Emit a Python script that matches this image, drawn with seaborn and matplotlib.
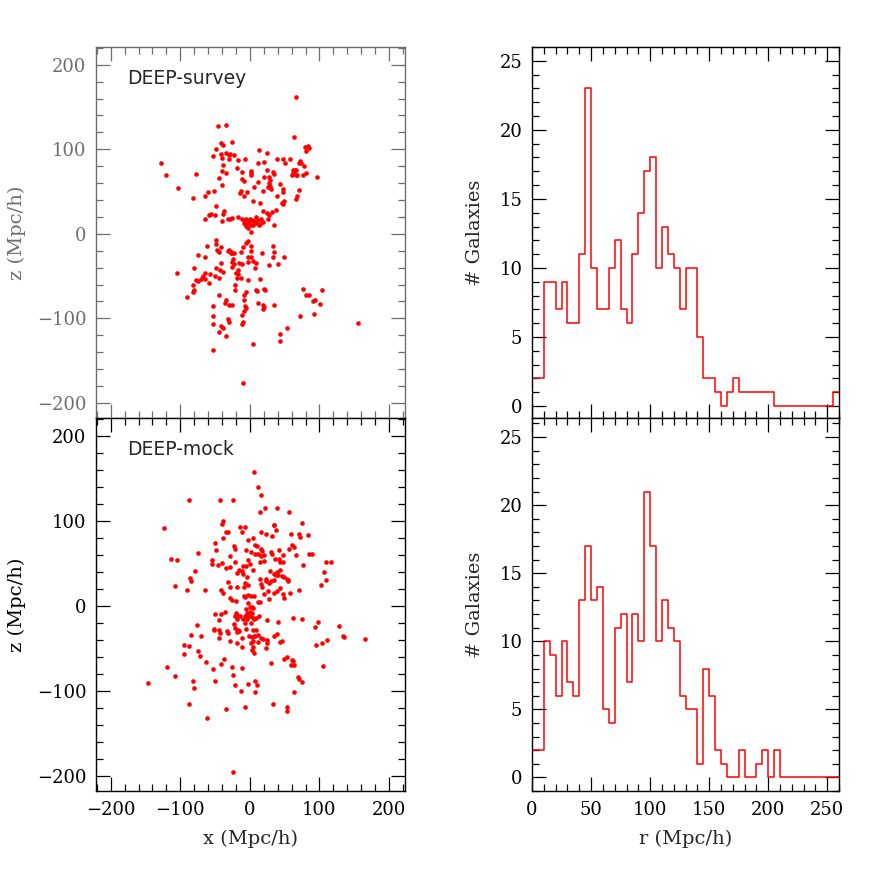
import numpy as np
import pandas as pd
import seaborn as sns
import matplotlib
matplotlib.use('Agg')
import matplotlib.pyplot as plt
from matplotlib.ticker import MultipleLocator

sns.set_style('ticks')
plt.rcParams['font.family'] = ['DejaVu Serif']

# DEEP-survey: projected positions (Mpc/h)
survey_x = [66, -46, -35, 63, -41, -39, -26, 79, 84, 81, 85, -49, -53, -42, -35, -40, -30, -28, -23, -30,
            -17, -7, 13, 24, -127, -39, -19, -40, -34, 11, 20, 39, 48, 58, 51, 70, 72, 74, 78, 62,
            65, 67, 62, 66, 60, 68, 76, 80, 96, -120, -78, -103, -81, -45, -40, -11, 1, 2, 1, 25,
            33, 35, 20, 28, 29, -12, -8, 12, 27, 29, 43, 31, 19, 26, 6, 48, 47, 71, 68, 66,
            39, 49, 46, 48, -52, -60, -64, -13, -14, -4, -8, 5, 15, -48, 19, 24, 27, 32, 38, -37,
            -38, -56, -58, -50, -64, -28, -31, -25, -40, -17, -12, -8, -5, 0, 3, 9, 12, 16, 19, -2,
            -7, 1, -5, -2, 5, 9, 13, 15, 34, 26, 1, -9, 6, -1,
            -48, -48, -41, -47, -45, -61, -75, -65, -5, -3, -10, 1, 2, -32, -30, -27, -25, -27, -23, -13,
            -2, 1, -3, 5, 9, 17, 33, 35, 33, 49, 41, 28, -105, -80, -42, -25, -23, -16, -12, -25,
            -17, -49, -43, -38, 7, -57, -64, -67, -65, -70, -74, -77, -81, -59, -50, -44, -20, -18, -13, -21,
            -22, -2, 14, -82, -80, -90, -45, -6, -9, 9, 10, 21, 22, -8, -35, -36, -30, -26, 12, 19,
            21, 19, 35, -7, -5, -9, -53, -53, -11, -10, -11, -32, -30, -53, -42, -39, -45, -35, -53, 5,
            -10, 53, 43, 43, 72, 92, 76, 81, 85, 103, 94, 90, 101, 155, -24, -17]
survey_z = [162, 127, 129, 115, 107, 105, 109, 103, 104, 98, 101, 100, 92, 94, 96, 90, 93, 95, 93, 88,
            87, 88, 99, 96, 84, 81, 78, 74, 72, 84, 85, 89, 89, 88, 84, 84, 86, 84, 80, 76,
            76, 76, 72, 70, 70, 70, 69, 72, 67, 69, 71, 54, 42, 66, 58, 73, 74, 72, 70, 76,
            73, 71, 67, 67, 64, 65, 63, 61, 60, 57, 59, 53, 51, 55, 55, 53, 50, 52, 45, 41,
            45, 39, 36, 35, 51, 49, 45, 51, 48, 49, 45, 39, 37, 33, 27, 25, 22, 26, 28, 27,
            24, 24, 22, 22, 18, 18, 17, 19, 15, 20, 18, 16, 17, 18, 16, 20, 16, 17, 14, 13,
            12, 11, 9, 7, 11, 13, 11, 12, 11, 18, 2, 13, 15, 15,
            -7, -12, -16, -19, -22, -15, -25, -28, -11, -9, -16, -15, -20, -20, -19, -21, -23, -23, -23, -22,
            -27, -27, -33, -32, -34, -23, -15, -22, -27, -28, -36, -37, -46, -40, -35, -33, -36, -35, -36, -39,
            -43, -41, -43, -45, -40, -47, -46, -50, -54, -54, -56, -55, -60, -58, -50, -52, -46, -52, -52, -60,
            -67, -55, -53, -69, -67, -75, -73, -69, -73, -67, -68, -65, -67, -78, -78, -82, -84, -84, -82, -84,
            -87, -89, -84, -86, -88, -91, -86, -97, -96, -104, -107, -101, -104, -107, -109, -111, -116, -121, -138, -131,
            -176, -112, -118, -127, -97, -95, -65, -72, -73, -66, -78, -80, -83, -106, -30, -48]

# DEEP-mock: projected positions (Mpc/h)
mock_x = [6, 11, 16, -87, -43, -24, 22, 39, 14, 56, -123, -38, -40, -14, -7, -35, -31, -12, -39, 16,
          23, 32, 34, 35, 38, 75, 59, 71, 72, 84, 5, -3, -50, -49, -23, -21, 8, 10, -6, 16,
          18, 2, 7, 12, 16, 20, 31, 32, 42, 47, 56, 61, 64, 66, 85, 89, -74, -114, -104, -55,
          -55, -46, -40, -29, -21, -29, -35, -10, -6, -2, 0, -12, -16, -18, -10, -4, 5, 14, 20, 36,
          42, 44, 48, 29, 35, 39, 43, 38, 41, 46, 49, 54, 55, 76, 109, 116, 107, 110, 102, -79,
          -86, -84, -107, -91, -64, -42, -38, -31, -29, -19, -7, -8, -2, 15, 16, 23, 23, 27, 30, 35,
          55, 17, 20, 26, 34, 39, 43, 47, 58, 70, -28, -26, -20, -9, -7, -2, 1, 6, 12, 15,
          27, 49, -2,
          -5, 0, 3, 5, 0, 3, -4, -7, -2, 0, 3, 6, 9, 13, -10, -20, -19, -21, -14, -18,
          -36, -41, -50, -45, -23, -21, -17, -19, -15, -6, 5, 9, -1, 3, 8, 12, 16, 19, 24, 24,
          11, 2, 5, 3, 6, 23, -12, -18, -11, -28, -45, -43, -44, -52, -51, -33, -31, -76, -84, -70,
          -95, -87, -94, -75, -72, -63, -37, -41, -53, -119, -107, -146, -81, -80, -88, -50, -62, -35, -24, -26,
          -11, -24, -22, -3, -13, 7, 10, 8, -7, 33, 54, 53, 30, 49, 53, 60, 62, 59, 64, 69,
          70, 75, 63, 105, 43, 46, 35, 39, 24, 41, 62, 75, 93, 98, 95, 103, 111, 128, 134, 135,
          166, -4, -7, 1, 6, 5]
mock_z = [158, 140, 130, 125, 125, 124, 115, 115, 110, 110, 92, 100, 96, 93, 93, 87, 87, 87, 80, 87,
          85, 82, 95, 95, 89, 97, 85, 84, 81, 83, 80, 77, 74, 66, 70, 67, 72, 70, 66, 67,
          65, 63, 61, 61, 59, 60, 63, 61, 66, 60, 67, 72, 69, 60, 61, 61, 62, 55, 54, 54,
          49, 48, 50, 59, 52, 46, 44, 47, 47, 54, 49, 41, 42, 39, 37, 34, 42, 52, 53, 55,
          55, 52, 52, 41, 37, 40, 42, 36, 36, 35, 34, 31, 29, 48, 51, 52, 40, 30, 24, 41,
          33, 29, 23, 18, 18, 18, 15, 28, 22, 22, 27, 22, 24, 31, 26, 31, 29, 27, 29, 30,
          30, 22, 14, 17, 15, 17, 21, 14, 15, 18, 9, 7, 6, 11, 10, 13, 12, 11, 5, 5,
          8, 9, 3,
          -4, -2, -2, -3, -7, -8, -9, -12, -12, -12, -13, -16, -14, -12, -15, -8, -11, -12, -12, -15,
          -7, -10, -10, -17, -22, -26, -29, -31, -30, -27, -28, -29, -36, -37, -36, -34, -38, -39, -40, -44,
          -43, -44, -48, -52, -55, -50, -38, -44, -48, -42, -38, -32, -28, -27, -28, -30, -32, -23, -34, -35,
          -46, -47, -57, -53, -59, -66, -63, -68, -74, -72, -83, -91, -89, -97, -115, -88, -132, -122, -196, -72,
          -73, -81, -93, -92, -100, -88, -93, -102, -119, -116, -119, -124, -67, -63, -60, -64, -65, -70, -70, -84,
          -86, -90, -101, -71, -43, -42, -35, -33, -17, -19, -14, -16, -25, -19, -46, -44, -40, -24, -35, -37,
          -39, -15, -20, -20, -36, -42]

# radial distribution, 5 Mpc/h bins from 0 to 260
r_edges = np.arange(0, 265, 5)
survey_counts = [2, 2, 9, 9, 7, 9, 6, 6, 11, 23, 10, 7, 7, 10, 12, 7, 6, 11, 14, 17,
                 18, 10, 13, 11, 10, 7, 10, 10, 5, 2, 2, 1, 0, 1, 2, 1, 1, 1, 1, 1,
                 1, 0, 0, 0, 0, 0, 0, 0, 0, 0, 0, 1]
mock_counts = [2, 2, 10, 9, 6, 10, 7, 6, 13, 17, 13, 14, 5, 4, 11, 12, 7, 12, 10, 21,
               17, 10, 13, 11, 10, 6, 5, 5, 1, 8, 6, 2, 1, 0, 0, 2, 0, 0, 1, 2,
               0, 2, 0, 0, 0, 0, 0, 0, 0, 0, 0, 0]

fig = plt.figure(figsize=(8.86, 8.86), dpi=100)
ax1 = fig.add_axes([0.1084, 0.5282, 0.3488, 0.4187])
ax3 = fig.add_axes([0.1084, 0.1072, 0.3488, 0.4210])
ax2 = fig.add_axes([0.6005, 0.5282, 0.3465, 0.4187])
ax4 = fig.add_axes([0.6005, 0.1072, 0.3465, 0.4210])

def style(ax, col, xmaj, xmin, ymaj, ymin):
    ax.xaxis.set_major_locator(MultipleLocator(xmaj))
    ax.xaxis.set_minor_locator(MultipleLocator(xmin))
    ax.yaxis.set_major_locator(MultipleLocator(ymaj))
    ax.yaxis.set_minor_locator(MultipleLocator(ymin))
    ax.tick_params(which='both', direction='in', top=True, right=True, colors=col,
                   labelsize=13, width=0.9, pad=7)
    ax.tick_params(which='major', length=10)
    ax.tick_params(which='minor', length=5)
    for s in ax.spines.values():
        s.set_visible(True)
        s.set_color(col)
        s.set_linewidth(1.0)

gray = '#6e6e6e'
for ax, xs, zs, name, col in [(ax1, survey_x, survey_z, 'DEEP-survey', gray),
                              (ax3, mock_x, mock_z, 'DEEP-mock', 'black')]:
    sns.scatterplot(x=xs, y=zs, ax=ax, color='red', s=11, linewidth=0)
    ax.set_xlim(-221, 223)
    ax.set_ylim(-218, 221)
    style(ax, col, 100, 20, 100, 20)
    ax.set_ylabel('z (Mpc/h)', fontsize=14, color=col, labelpad=8)
    ax.text(0.10, 0.915, name, transform=ax.transAxes, fontsize=13.5,
            family='DejaVu Sans', va='center', ha='left')

for ax, counts, ylim in [(ax2, survey_counts, (-0.87, 26.0)), (ax4, mock_counts, (-1.0, 26.4))]:
    df = pd.DataFrame({'r': r_edges[:-1] + 2.5, 'n': counts})
    sns.histplot(data=df, x='r', weights='n', bins=len(counts), binrange=(0, 260),
                 element='step', fill=False, color='red', linewidth=1.1, ax=ax)
    ax.set_xlim(0, 260)
    ax.set_ylim(*ylim)
    style(ax, 'black', 50, 10, 5, 1)
    ax.set_ylabel('# Galaxies', fontsize=14, labelpad=11)

ax1.tick_params(labelbottom=False)
ax2.tick_params(labelbottom=False)
ax1.set_xlabel('')
ax2.set_xlabel('')
ax3.set_xlabel('x (Mpc/h)', fontsize=14, labelpad=8)
ax4.set_xlabel('r (Mpc/h)', fontsize=14, labelpad=8)

fig.savefig('out.png', dpi=100)
